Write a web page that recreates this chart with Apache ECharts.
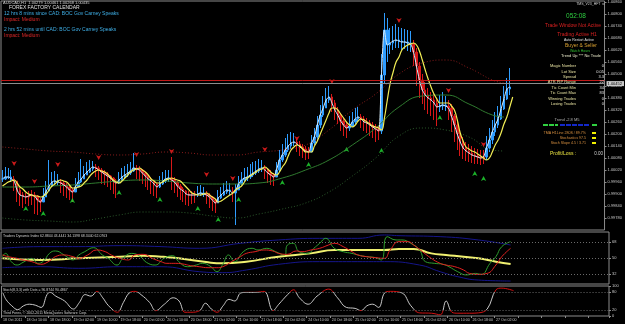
<!DOCTYPE html>
<html>
<head>
<meta charset="utf-8">
<script src="https://cdn.jsdelivr.net/npm/echarts@6/dist/echarts.min.js"></script>
<style>
  html, body { margin: 0; background: #000; }
  #chart { width: 625px; height: 324px; }
</style>
</head>
<body>
<div id="chart"></div>
<script>
// AUDCAD H1, 18 Oct - 27 Oct 2011
const tickLabels = ["18 Oct 2011", "18 Oct 10:00", "18 Oct 18:00", "19 Oct 02:00", "19 Oct 10:00", "19 Oct 18:00",
  "20 Oct 02:00", "20 Oct 10:00", "20 Oct 18:00", "21 Oct 02:00", "21 Oct 10:00", "21 Oct 18:00",
  "24 Oct 02:00", "24 Oct 10:00", "24 Oct 18:00", "25 Oct 02:00", "25 Oct 10:00", "25 Oct 18:00",
  "26 Oct 02:00", "26 Oct 10:00", "26 Oct 18:00", "27 Oct 02:00"];

const closes = [
  0.99975, 0.99985, 0.99985, 0.99975, 0.99965, 0.99920, 0.99895, 0.99890, 0.99885, 0.99890,
  0.99895, 0.99890, 0.99870, 0.99860, 0.99885, 0.99915, 0.99940, 0.99960, 0.99965, 0.99960,
  0.99955, 0.99945, 0.99935, 0.99920, 0.99910, 0.99935, 0.99960, 0.99975, 0.99995, 1.00010,
  1.00025, 1.00035, 1.00030, 1.00020, 1.00010, 1.00000, 0.99990, 0.99980, 0.99965, 0.99955,
  0.99970, 0.99985, 0.99995, 1.00005, 1.00015, 1.00030, 1.00025, 1.00020, 1.00005, 0.99990,
  0.99975, 0.99965, 0.99950, 0.99935, 0.99950, 0.99965, 0.99975, 0.99980, 0.99970, 0.99960,
  0.99940, 0.99925, 0.99915, 0.99900, 0.99895, 0.99895, 0.99895, 0.99900, 0.99905, 0.99900,
  0.99895, 0.99885, 0.99870, 0.99855, 0.99880, 0.99895, 0.99910, 0.99920, 0.99915, 0.99905,
  0.99920, 0.99950, 0.99970, 0.99980, 0.99985, 0.99995, 1.00005, 1.00015, 1.00025, 1.00030,
  1.00020, 1.00005, 0.99995, 0.99985, 1.00020, 1.00070, 1.00095, 1.00120, 1.00140, 1.00155,
  1.00160, 1.00150, 1.00135, 1.00125, 1.00115, 1.00110, 1.00155, 1.00185, 1.00245, 1.00295,
  1.00330, 1.00370, 1.00385, 1.00355, 1.00320, 1.00295, 1.00265, 1.00245, 1.00230, 1.00240,
  1.00260, 1.00275, 1.00285, 1.00275, 1.00260, 1.00255, 1.00245, 1.00235, 1.00225, 1.00215,
  1.00495, 1.00720, 1.00645, 1.00655, 1.00665, 1.00670, 1.00665, 1.00660, 1.00660, 1.00655,
  1.00650, 1.00610, 1.00540, 1.00470, 1.00420, 1.00395, 1.00380, 1.00370, 1.00355, 1.00335,
  1.00340, 1.00345, 1.00340, 1.00330, 1.00290, 1.00245, 1.00200, 1.00160, 1.00130, 1.00115,
  1.00105, 1.00095, 1.00090, 1.00085, 1.00080, 1.00085, 1.00130, 1.00170, 1.00210, 1.00245,
  1.00275, 1.00325, 1.00375, 1.00425, 1.00435];

const highs = [
  1.00020, 1.00035, 1.00030, 1.00020, 0.99990, 0.99960, 0.99930, 0.99910, 0.99905, 0.99915,
  0.99920, 0.99910, 0.99895, 0.99880, 0.99930, 0.99965, 1.00070, 1.00010, 1.00015, 1.00000,
  0.99975, 0.99965, 0.99955, 0.99945, 0.99930, 0.99980, 1.00010, 1.00075, 1.00040, 1.00060,
  1.00070, 1.00065, 1.00050, 1.00040, 1.00030, 1.00020, 1.00010, 0.99995, 0.99985, 0.99975,
  1.00010, 1.00030, 1.00040, 1.00050, 1.00060, 1.00105, 1.00045, 1.00040, 1.00025, 1.00010,
  0.99995, 0.99985, 0.99970, 0.99955, 0.99990, 1.00010, 1.00020, 1.00020, 1.00085, 0.99985,
  0.99965, 0.99950, 0.99935, 0.99920, 0.99915, 0.99915, 0.99915, 0.99940, 0.99945, 0.99935,
  0.99915, 0.99905, 0.99890, 0.99875, 0.99920, 0.99935, 0.99955, 0.99965, 0.99955, 0.99935,
  0.99950, 0.99990, 1.00010, 1.00030, 1.00035, 1.00050, 1.00060, 1.00065, 1.00075, 1.00070,
  1.00045, 1.00030, 1.00020, 1.00005, 1.00060, 1.00120, 1.00150, 1.00180, 1.00200, 1.00210,
  1.00205, 1.00175, 1.00165, 1.00150, 1.00140, 1.00135, 1.00195, 1.00230, 1.00290, 1.00345,
  1.00390, 1.00430, 1.00440, 1.00400, 1.00370, 1.00335, 1.00305, 1.00280, 1.00260, 1.00290,
  1.00310, 1.00330, 1.00335, 1.00300, 1.00290, 1.00280, 1.00270, 1.00260, 1.00250, 1.00240,
  1.00600, 1.00805, 1.00780, 1.00730, 1.00740, 1.00750, 1.00735, 1.00730, 1.00725, 1.00720,
  1.00715, 1.00670, 1.00630, 1.00560, 1.00500, 1.00460, 1.00430, 1.00410, 1.00400, 1.00380,
  1.00395, 1.00410, 1.00390, 1.00370, 1.00350, 1.00300, 1.00260, 1.00220, 1.00185, 1.00160,
  1.00150, 1.00140, 1.00130, 1.00125, 1.00120, 1.00120, 1.00190, 1.00230, 1.00270, 1.00310,
  1.00340, 1.00390, 1.00440, 1.00480, 1.00530];

const lows = [
  0.99960, 0.99970, 0.99975, 0.99960, 0.99915, 0.99860, 0.99840, 0.99830, 0.99850, 0.99840,
  0.99845, 0.99800, 0.99795, 0.99810, 0.99860, 0.99895, 0.99920, 0.99945, 0.99950, 0.99945,
  0.99905, 0.99890, 0.99880, 0.99870, 0.99860, 0.99915, 0.99940, 0.99955, 0.99980, 0.99995,
  1.00005, 1.00015, 0.99985, 0.99970, 0.99950, 0.99945, 0.99935, 0.99920, 0.99900, 0.99880,
  0.99950, 0.99965, 0.99975, 0.99985, 0.99995, 1.00010, 0.99975, 0.99965, 0.99950, 0.99935,
  0.99920, 0.99900, 0.99890, 0.99880, 0.99930, 0.99945, 0.99955, 0.99960, 0.99920, 0.99905,
  0.99885, 0.99870, 0.99860, 0.99845, 0.99840, 0.99850, 0.99855, 0.99885, 0.99890, 0.99885,
  0.99850, 0.99830, 0.99815, 0.99805, 0.99860, 0.99875, 0.99890, 0.99900, 0.99895, 0.99860,
  0.99745, 0.99925, 0.99945, 0.99960, 0.99965, 0.99975, 0.99985, 0.99995, 1.00005, 1.00010,
  0.99975, 0.99955, 0.99945, 0.99940, 0.99990, 1.00010, 1.00060, 1.00085, 1.00110, 1.00125,
  1.00140, 1.00110, 1.00090, 1.00080, 1.00070, 1.00075, 1.00110, 1.00145, 1.00170, 1.00230,
  1.00285, 1.00330, 1.00355, 1.00310, 1.00270, 1.00250, 1.00215, 1.00190, 1.00180, 1.00215,
  1.00235, 1.00250, 1.00260, 1.00230, 1.00215, 1.00205, 1.00190, 1.00180, 1.00160, 1.00170,
  1.00200, 1.00450, 1.00560, 1.00600, 1.00620, 1.00630, 1.00630, 1.00620, 1.00625, 1.00615,
  1.00610, 1.00540, 1.00440, 1.00380, 1.00350, 1.00320, 1.00300, 1.00290, 1.00270, 1.00240,
  1.00310, 1.00320, 1.00315, 1.00270, 1.00210, 1.00160, 1.00120, 1.00090, 1.00075, 1.00065,
  1.00060, 1.00055, 1.00050, 1.00050, 1.00045, 1.00050, 1.00070, 1.00110, 1.00150, 1.00190,
  1.00230, 1.00270, 1.00320, 1.00370, 1.00395];

// runs of bar colour, starting with an up (blue) run
const trendRuns = [4, 10, 6, 5, 7, 8, 6, 8, 4, 9, 3, 4, 5, 1, 10, 4, 7, 5, 7, 6, 4, 7, 11, 9, 3, 13, 9];

const yellowMA = [
  0.99940, 0.99950, 0.99960, 0.99965, 0.99970, 0.99955, 0.99935, 0.99925, 0.99910, 0.99900,
  0.99895, 0.99890, 0.99890, 0.99885, 0.99890, 0.99900, 0.99920, 0.99940, 0.99950, 0.99965,
  0.99970, 0.99965, 0.99960, 0.99945, 0.99930, 0.99930, 0.99935, 0.99940, 0.99955, 0.99970,
  0.99990, 1.00005, 1.00015, 1.00020, 1.00015, 1.00010, 1.00000, 0.99985, 0.99970, 0.99960,
  0.99955, 0.99965, 0.99980, 0.99995, 1.00010, 1.00020, 1.00025, 1.00030, 1.00020, 1.00010,
  0.99995, 0.99975, 0.99965, 0.99955, 0.99955, 0.99960, 0.99970, 0.99975, 0.99980, 0.99975,
  0.99970, 0.99965, 0.99950, 0.99935, 0.99920, 0.99905, 0.99900, 0.99895, 0.99895, 0.99900,
  0.99905, 0.99895, 0.99885, 0.99875, 0.99860, 0.99865, 0.99875, 0.99885, 0.99895, 0.99905,
  0.99920, 0.99930, 0.99940, 0.99960, 0.99980, 0.99990, 1.00000, 1.00010, 1.00020, 1.00025,
  1.00035, 1.00025, 1.00010, 1.00000, 0.99995, 1.00010, 1.00035, 1.00055, 1.00090, 1.00120,
  1.00135, 1.00145, 1.00140, 1.00125, 1.00110, 1.00110, 1.00110, 1.00140, 1.00165, 1.00200,
  1.00235, 1.00270, 1.00305, 1.00330, 1.00330, 1.00320, 1.00300, 1.00280, 1.00260, 1.00245,
  1.00235, 1.00245, 1.00265, 1.00275, 1.00270, 1.00260, 1.00250, 1.00240, 1.00235, 1.00230,
  1.00220, 1.00280, 1.00370, 1.00455, 1.00510, 1.00560, 1.00585, 1.00620, 1.00635, 1.00645,
  1.00650, 1.00655, 1.00645, 1.00615, 1.00570, 1.00520, 1.00475, 1.00435, 1.00400, 1.00375,
  1.00355, 1.00355, 1.00355, 1.00355, 1.00340, 1.00320, 1.00270, 1.00205, 1.00165, 1.00135,
  1.00125, 1.00115, 1.00110, 1.00100, 1.00090, 1.00080, 1.00070, 1.00080, 1.00110, 1.00145,
  1.00170, 1.00205, 1.00250, 1.00285, 1.00335, 1.00385];

// [bar index, price] read every 8 bars
const greenMA = [[0, 0.99935], [8, 0.99935], [16, 0.99940], [24, 0.99945], [32, 0.99955], [40, 0.99965],
  [48, 0.99970], [56, 0.99965], [64, 0.99955], [72, 0.99950], [80, 0.99950], [88, 0.99955], [96, 0.99980],
  [104, 1.00020], [112, 1.00070], [120, 1.00145], [128, 1.00230], [136, 1.00335], [144, 1.00390],
  [152, 1.00395], [160, 1.00350], [168, 1.00295], [172, 1.00285]];
const upperBand = [[0, 1.00135], [8, 1.00125], [16, 1.00115], [24, 1.00110], [32, 1.00100], [40, 1.00095],
  [48, 1.00100], [56, 1.00110], [64, 1.00105], [72, 1.00095], [80, 1.00095], [88, 1.00110], [96, 1.00120],
  [104, 1.00145], [112, 1.00220], [120, 1.00320], [128, 1.00400], [136, 1.00500], [144, 1.00555],
  [152, 1.00570], [160, 1.00530], [168, 1.00470], [172, 1.00455]];
const lowerBand = [[0, 0.99780], [8, 0.99770], [16, 0.99765], [24, 0.99760], [32, 0.99775], [40, 0.99795],
  [48, 0.99810], [56, 0.99810], [64, 0.99805], [72, 0.99790], [80, 0.99780], [88, 0.99800], [96, 0.99825],
  [104, 0.99855], [112, 0.99910], [120, 0.99990], [128, 1.00080], [136, 1.00190], [144, 1.00230],
  [152, 1.00220], [160, 1.00185], [168, 1.00120], [172, 1.00115]];

const sellSignals = [[4, 1.00040], [11, 0.99950], [19, 1.00035], [33, 1.00070], [46, 1.00085], [58, 1.00100],
  [70, 0.99985], [79, 0.99965], [90, 1.00110], [101, 1.00165], [113, 1.00450], [136, 1.00755],
  [153, 1.00405], [165, 1.00135]];
const buySignals = [[8, 0.99840], [14, 0.99815], [24, 0.99880], [40, 0.99920], [54, 0.99885], [67, 0.99840],
  [74, 0.99785], [81, 0.99885], [96, 0.99970], [105, 1.00060], [118, 1.00135], [130, 1.00130],
  [150, 1.00295], [162, 1.00015], [165, 0.99990]];

// ask / bid lines and the price shown in the axis box
const askPrice = 1.00467;
const bidPrice = 1.00452;

// Traders Dynamic Index
const tdiRsi = [[0, 51.5], [1, 55.2], [3, 45.9], [5, 42.1], [7, 45.1], [10, 49.6], [12, 44.0], [14, 46.6],
  [16, 55.2], [18, 57.9], [21, 53.4], [24, 47.8], [26, 53.4], [28, 57.1], [31, 61.6], [34, 53.4], [36, 49.6],
  [39, 42.1], [41, 49.6], [44, 55.2], [47, 51.5], [49, 45.1], [52, 42.1], [55, 49.6], [58, 52.6], [60, 45.9],
  [63, 40.2], [66, 42.1], [68, 44.0], [71, 40.2], [73, 34.6], [75, 42.9], [77, 53.4], [79, 45.9], [82, 57.1],
  [85, 60.9], [87, 59.0], [90, 60.9], [93, 57.1], [96, 53.4], [97, 64.6], [99, 66.5], [101, 57.1], [104, 55.2],
  [106, 60.9], [108, 66.5], [110, 72.1], [113, 60.9], [116, 57.1], [119, 55.2], [121, 53.4], [124, 51.5],
  [127, 50.4], [129, 47.8], [131, 74.0], [134, 70.3], [136, 70.3], [139, 66.5], [142, 59.0], [144, 45.9],
  [147, 44.0], [150, 42.9], [152, 40.2], [155, 34.6], [158, 30.9], [161, 32.7], [163, 31.6], [166, 44.0],
  [168, 51.5], [170, 62.8], [173, 68.4]];
const tdiSignal = [[0, 53.4], [2, 51.5], [5, 49.6], [7, 47.8], [10, 45.9], [13, 42.9], [16, 46.6], [18, 51.5],
  [21, 53.4], [24, 51.5], [26, 49.6], [29, 53.4], [32, 59.0], [35, 57.1], [37, 53.4], [40, 49.6], [43, 47.8],
  [45, 53.4], [48, 54.1], [51, 49.6], [54, 45.9], [56, 44.0], [59, 44.0], [62, 42.9], [64, 41.4], [67, 40.2],
  [70, 39.1], [73, 39.1], [75, 40.2], [78, 45.9], [81, 51.5], [83, 55.2], [86, 57.1], [89, 59.0], [92, 57.9],
  [94, 55.2], [97, 54.1], [100, 57.9], [102, 57.1], [105, 59.0], [108, 60.9], [111, 64.6], [113, 66.5],
  [116, 62.8], [119, 57.1], [121, 53.4], [124, 51.5], [127, 50.4], [130, 49.6], [132, 59.0], [135, 68.4],
  [138, 68.4], [140, 64.6], [143, 57.1], [146, 49.6], [149, 44.0], [151, 42.1], [154, 40.2], [157, 36.5],
  [159, 32.7], [162, 31.6], [165, 32.7], [168, 42.1], [170, 51.5], [173, 60.9]];
const tdiBase = [[0, 49.6], [13, 47.8], [26, 49.6], [40, 51.5], [48, 52.6], [54, 51.5], [60, 49.6], [70, 45.1],
  [75, 44.0], [83, 45.9], [94, 51.5], [105, 55.2], [113, 59.0], [121, 59.0], [130, 59.0], [135, 60.1],
  [140, 60.1], [146, 55.2], [151, 53.4], [157, 51.5], [162, 49.6], [168, 45.9], [173, 43.3]];
const tdiUpper = [[0, 60.9], [13, 62.8], [26, 62.8], [40, 63.9], [54, 62.8], [67, 60.9], [81, 66.5], [94, 70.3],
  [108, 72.1], [121, 72.1], [130, 75.9], [135, 75.1], [149, 74.0], [162, 70.3], [173, 64.6]];
const tdiLower = [[0, 39.1], [13, 40.2], [26, 38.4], [40, 40.2], [54, 40.2], [67, 34.6], [75, 33.5], [83, 36.5],
  [94, 42.9], [108, 45.9], [121, 45.9], [130, 45.9], [142, 42.1], [149, 34.6], [155, 29.0], [162, 25.2],
  [173, 24.1]];

// Stochastic
const stochMain = [[0, 76.8], [1, 55.4], [3, 34.0], [5, 21.1], [7, 34.0], [9, 39.3], [11, 36.1], [13, 28.6],
  [15, 71.4], [16, 78.9], [18, 66.1], [21, 50.0], [24, 23.2], [26, 44.7], [28, 71.4], [30, 66.1], [32, 82.1],
  [34, 60.7], [36, 34.0], [39, 12.5], [41, 44.7], [43, 76.8], [45, 82.1], [47, 71.4], [50, 44.7], [52, 17.9],
  [55, 39.3], [58, 60.7], [60, 50.0], [62, 12.5], [64, 12.5], [67, 17.9], [69, 42.5], [71, 23.2], [73, 12.5],
  [75, 34.0], [77, 55.4], [79, 50.0], [81, 76.8], [83, 78.9], [86, 78.9], [89, 82.1], [92, 17.9], [94, 39.3],
  [97, 71.4], [99, 87.5], [101, 60.7], [104, 39.3], [107, 66.1], [111, 89.6], [114, 60.7], [117, 28.6],
  [120, 25.4], [122, 17.9], [124, 34.0], [126, 39.3], [128, 28.6], [130, 76.8], [132, 82.1], [136, 76.8],
  [139, 34.0], [142, 10.4], [146, 9.3], [149, 4.0], [151, 50.0], [153, 12.5], [155, 9.3], [159, 9.3],
  [162, 10.4], [165, 23.2], [168, 87.5], [170, 92.9], [174, 84.3]];

const infoLabels = ["Magic Number", "Lot Size", "Spread", "ATR PIP Range", "Tic Count Min", "Tic Count Max", "Winning Trades", "Losing Trades"];
const infoValues = ["0", "0.05", "3.3", "22", "34", "83", "0", "0"];

const slotCount = 207; // bars plus the empty shift space on the right
const slots = Array.from({ length: slotCount }, (_, i) => String(i));

const upColor = "#2f9dff";
const downColor = "#d81818";
const barTrend = [];
trendRuns.forEach((n, k) => {
  for (let j = 0; j < n; j++) barTrend.push(k % 2 === 0 ? upColor : downColor);
});
const candleData = closes.map((c, i) => {
  const col = barTrend[i];
  return {
    value: [i === 0 ? c : closes[i - 1], c, lows[i], highs[i]],
    itemStyle: { color: col, color0: col, borderColor: col, borderColor0: col },
  };
});

const FONT = '"Liberation Sans", Arial, sans-serif';
const axisGrey = "#8c8c8c";
const labelGrey = "#c8c8c8";

function txt(text, x, y, size, fill, align) {
  return {
    type: "text", x: x, y: y, silent: true, z: 100,
    style: {
      text: text, fill: fill, font: size + "px " + FONT,
      align: align || "left", textAlign: align || "left",
      verticalAlign: "middle", textVerticalAlign: "middle",
    },
  };
}

const graphics = [
  txt("AUDCAD,H1  1.00279 1.00461 1.00268 1.00435", 3, 2.5, 4, "#d0d0d0"),
  txt("FOREX FACTORY CALENDAR", 9, 7.5, 5, "#e0e0e0"),
  txt("12 hrs 8 mins since CAD: BOC Gov Carney Speaks", 4, 14, 5, "#3fb0e8"),
  txt("Impact: Medium", 4, 19.5, 5, "#e02828"),
  txt("2 hrs 52 mins until CAD: BOC Gov Carney Speaks", 4, 30, 5, "#3fb0e8"),
  txt("Impact: Medium", 4, 35.5, 5, "#e02828"),

  txt("TMS_V23_HFT \u263A", 605, 4, 3.5, "#d0d0d0", "right"),
  txt("052:08", 576, 16, 6.5, "#2ecc40", "center"),
  txt("Trade Window Not Active", 573, 26, 5, "#d82020", "center"),
  txt("Trading Active H1", 577, 35, 5, "#d82020", "center"),
  txt("Auto Restart Active", 579, 40, 3.5, "#e0e0e0", "center"),
  txt("Buyer & Seller", 581, 46, 5, "#d8a030", "center"),
  txt("Watch Hours", 580, 51, 3.5, "#30c030", "center"),
  txt("Trend Up *** No Trade", 581, 56, 4, "#e8e8c8", "center"),

  txt("Trend -2.8 M5", 567, 120, 4, "#b0b0b0", "center"),
  txt("TMA H1Line 280S / 89.7%", 586, 133, 3.6, "#d89040", "right"),
  txt("Stochastics 97.5", 586, 138, 3.6, "#d89040", "right"),
  txt("Stoch Slope 4.5 / 3.71", 586, 143, 3.6, "#d89040", "right"),
  txt("Profit/Loss :", 550, 154, 5, "#e8e040"),
  txt("0.00", 603, 154, 4.5, "#d0d0d0", "right"),

  txt("Traders Dynamic Index 62.8844 43.4441 34.1398 68.3440 62.0763", 3, 236.5, 3.5, "#d0d0d0"),
  txt("Stoch(8,3,3) with Dots = 96.8744 90.4867", 3, 290, 3.5, "#d0d0d0"),
  txt("Third Forex, \u00A9 2002-2011 MetaQuotes Software Corp.", 3, 313, 3.5, "#d0d0d0"),

  { type: "line", silent: true, shape: { x1: 543, y1: 125, x2: 558, y2: 125 }, style: { stroke: "#30d040", lineWidth: 2, lineDash: [5, 1] } },
  { type: "line", silent: true, shape: { x1: 560, y1: 125, x2: 590, y2: 125 }, style: { stroke: "#1428c8", lineWidth: 2, lineDash: [5, 1] } },
  { type: "line", silent: true, shape: { x1: 592, y1: 125, x2: 597, y2: 125 }, style: { stroke: "#30d040", lineWidth: 2 } },
];
infoLabels.forEach((lab, k) => {
  const y = 66 + k * 5.4;
  graphics.push(txt(lab, 576, y, 4, "#e6e0a0", "right"));
  graphics.push(txt(infoValues[k], 604, y, 4, "#e0e0e0", "right"));
});
[133, 138, 143].forEach((y) => {
  graphics.push({ type: "rect", silent: true, shape: { x: 592, y: y - 1, width: 4, height: 2 }, style: { fill: "#f0f000" } });
});

function xAx(grid, showLabels) {
  return {
    type: "category", gridIndex: grid, data: slots,
    axisLine: { show: false },
    axisTick: showLabels
      ? { show: true, interval: 7, length: 2, lineStyle: { color: axisGrey } }
      : { show: false },
    axisLabel: showLabels
      ? {
          show: true, interval: 7, align: "left", margin: 2, fontSize: 3.6, color: labelGrey, fontFamily: FONT,
          formatter: (v, idx) => tickLabels[idx / 8] || "",
        }
      : { show: false },
    splitLine: { show: false },
  };
}

function yAx(grid, extra) {
  return Object.assign({
    type: "value", gridIndex: grid, position: "right",
    axisLine: { show: false },
    splitLine: { show: false },
  }, extra);
}

function levelLines(levels) {
  return {
    silent: true, symbol: ["none", "none"], animation: false,
    label: { show: false },
    lineStyle: { color: "#6a6a6a", type: [1, 2], width: 1 },
    data: levels.map((v) => ({ yAxis: v })),
  };
}

const chart = echarts.init(document.getElementById("chart"));
chart.setOption({
  backgroundColor: "#000",
  animation: false,
  grid: [
    { left: 1, right: 16, top: 1, height: 229, show: true, borderColor: axisGrey, borderWidth: 1 },
    { left: 1, right: 16, top: 232, height: 52, show: true, borderColor: axisGrey, borderWidth: 1 },
    { left: 1, right: 16, top: 286, height: 30, show: true, borderColor: axisGrey, borderWidth: 1 },
  ],
  xAxis: [xAx(0, false), xAx(1, false), xAx(2, true)],
  yAxis: [
    yAx(0, {
      min: 0.9972, max: 1.00865, interval: 0.0006,
      axisTick: { show: true, length: 2, lineStyle: { color: axisGrey } },
      axisLabel: { fontSize: 4, color: labelGrey, margin: 3, fontFamily: FONT, showMinLabel: false, showMaxLabel: false,
        formatter: (v) => v.toFixed(5) },
    }),
    yAx(1, {
      min: 20.75, max: 79.25,
      axisTick: { show: true, length: 2, customValues: [32, 50, 68], lineStyle: { color: axisGrey } },
      axisLabel: { fontSize: 4, color: labelGrey, margin: 3, fontFamily: FONT, customValues: [32, 50, 68] },
    }),
    yAx(2, {
      min: 0, max: 100,
      axisTick: { show: true, length: 2, customValues: [0, 20, 80, 100], lineStyle: { color: axisGrey } },
      axisLabel: { fontSize: 4, color: labelGrey, margin: 3, fontFamily: FONT, customValues: [0, 20, 80, 100] },
    }),
  ],
  visualMap: [{
    type: "piecewise", show: false, seriesIndex: 13, dimension: 1,
    pieces: [{ lt: 20, color: "#d01010" }, { gte: 20, lte: 80, color: "#c8c8c8" }, { gt: 80, color: "#d01010" }],
  }],
  graphic: graphics,
  series: [
    { name: "upper band", type: "line", data: upperBand, smooth: true, symbol: "none", lineStyle: { color: "#8a1c1c", width: 1, type: [1, 2] } },
    { name: "lower band", type: "line", data: lowerBand, smooth: true, symbol: "none", lineStyle: { color: "#2b5a2b", width: 1, type: [1, 2] } },
    { name: "green ma", type: "line", data: greenMA, smooth: true, symbol: "none", lineStyle: { color: "#2f7a2f", width: 1 } },
    { name: "price", type: "candlestick", data: candleData, barWidth: 2, itemStyle: { borderWidth: 1 } },
    {
      name: "close", type: "line", data: closes, smooth: 0.3, symbol: "none", lineStyle: { color: "#d8ecf8", width: 1 },
      markLine: {
        silent: true, symbol: ["none", "none"], animation: false, precision: 5,
        data: [
          { yAxis: askPrice, lineStyle: { color: "#c01818", type: "solid", width: 1 }, label: { show: false } },
          {
            yAxis: bidPrice, lineStyle: { color: "#8c8c8c", type: "solid", width: 1 },
            label: { show: true, position: "end", distance: 2, formatter: bidPrice.toFixed(5), fontSize: 4, color: "#000",
              backgroundColor: "#c8c8c8", padding: [1, 2, 0, 1], fontFamily: FONT },
          },
        ],
      },
    },
    { name: "yellow ma", type: "line", data: yellowMA, smooth: true, symbol: "none", lineStyle: { color: "#f2ee55", width: 1.2 } },
    { name: "sell", type: "scatter", data: sellSignals, symbol: "arrow", symbolRotate: 180, symbolSize: [4, 5], itemStyle: { color: "#ff2020" } },
    { name: "buy", type: "scatter", data: buySignals, symbol: "arrow", symbolSize: [4, 5], itemStyle: { color: "#22dd33" } },

    { name: "tdi upper", type: "line", xAxisIndex: 1, yAxisIndex: 1, data: tdiUpper, smooth: true, symbol: "none", lineStyle: { color: "#15158a", width: 1 } },
    { name: "tdi lower", type: "line", xAxisIndex: 1, yAxisIndex: 1, data: tdiLower, smooth: true, symbol: "none", lineStyle: { color: "#15158a", width: 1 } },
    { name: "tdi base", type: "line", xAxisIndex: 1, yAxisIndex: 1, data: tdiBase, smooth: true, symbol: "none", lineStyle: { color: "#f0f070", width: 2 },
      markLine: levelLines([32, 50, 68]) },
    { name: "tdi rsi", type: "line", xAxisIndex: 1, yAxisIndex: 1, data: tdiRsi, smooth: true, symbol: "none", lineStyle: { color: "#2e9e2e", width: 1 } },
    { name: "tdi signal", type: "line", xAxisIndex: 1, yAxisIndex: 1, data: tdiSignal, smooth: true, symbol: "none", lineStyle: { color: "#e02020", width: 1 } },

    { name: "stoch", type: "line", xAxisIndex: 2, yAxisIndex: 2, data: stochMain, smooth: 0.4, symbol: "none", lineStyle: { width: 1 },
      markLine: levelLines([20, 80]) },
  ],
});
</script>
</body>
</html>
